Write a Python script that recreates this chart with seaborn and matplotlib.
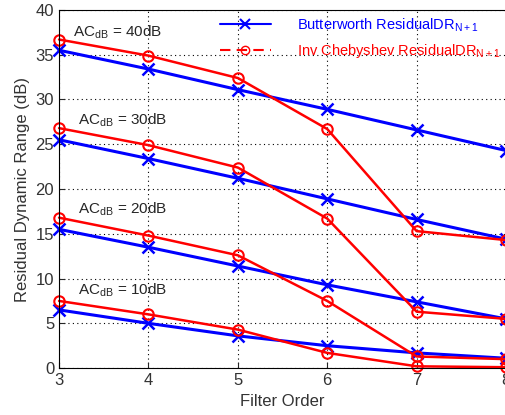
import numpy as np
import pandas as pd
import matplotlib
matplotlib.use("Agg")
import matplotlib.pyplot as plt
from matplotlib.lines import Line2D
import seaborn as sns

# filter orders
orders = [3, 4, 5, 6, 7, 8]
ac_levels = [40, 30, 20, 10]

# Butterworth residual DR (dB) per AC level
butter_40 = [35.5, 33.4, 31.1, 28.9, 26.6, 24.3]
butter_30 = [25.5, 23.4, 21.2, 18.9, 16.6, 14.4]
butter_20 = [15.5, 13.5, 11.4, 9.3, 7.4, 5.5]
butter_10 = [6.5, 5.0, 3.6, 2.5, 1.7, 1.1]

# Inverse Chebyshev residual DR (dB) per AC level
cheby_40 = [36.7, 34.9, 32.4, 26.7, 15.3, 14.3]
cheby_30 = [26.8, 24.9, 22.4, 16.7, 6.3, 5.5]
cheby_20 = [16.8, 14.8, 12.6, 7.5, 1.3, 1.0]
cheby_10 = [7.5, 6.0, 4.3, 1.7, 0.2, 0.1]

# label positions for the AC annotations
label_x = [3.16, 3.21, 3.21, 3.21]
label_y = [37.5, 27.7, 17.8, 8.7]

butter = [butter_40, butter_30, butter_20, butter_10]
cheby = [cheby_40, cheby_30, cheby_20, cheby_10]

rows = []
for ac, b, c in zip(ac_levels, butter, cheby):
    for o, vb, vc in zip(orders, b, c):
        rows.append({"order": o, "dr": vb, "filter": "butter", "ac": ac})
        rows.append({"order": o, "dr": vc, "filter": "cheby", "ac": ac})
df = pd.DataFrame(rows)

sns.set_style("ticks")
plt.rcParams["font.family"] = ["Liberation Sans", "DejaVu Sans"]

fig = plt.figure(figsize=(5.05, 4.15), dpi=100)
ax = fig.add_axes([0.117, 0.113, 0.885, 0.863])

blue = "#0000ff"
red = "#ff0000"

# butterworth curves
sns.lineplot(data=df[df["filter"] == "butter"], x="order", y="dr", units="ac",
             estimator=None, color=blue, marker="x", markersize=9,
             markeredgewidth=1.8, markeredgecolor=blue, linewidth=2.2,
             ax=ax, clip_on=False)
# inverse chebyshev curves
sns.lineplot(data=df[df["filter"] == "cheby"], x="order", y="dr", units="ac",
             estimator=None, color=red, marker="o", markersize=7.5,
             markeredgewidth=1.5, markerfacecolor="none", markeredgecolor=red,
             linewidth=1.8, ax=ax, clip_on=False)

for ac, lx, ly in zip(ac_levels, label_x, label_y):
    ax.text(lx, ly, "AC$_{\\mathregular{dB}}$ = %ddB" % ac, fontsize=11,
            va="center", ha="left")

ax.set_xlim(3, 8)
ax.set_ylim(0, 40)
ax.set_xticks(orders)
ax.set_yticks(range(0, 41, 5))
ax.grid(True, linestyle=(0, (1, 3)), color="black", linewidth=0.8)
ax.tick_params(direction="in", labelsize=12, length=4, labelcolor="#333333")
for s in ax.spines.values():
    s.set_visible(True)
    s.set_color("black")
ax.set_xlabel("Filter Order", fontsize=12, color="#333333")
ax.set_ylabel("Residual Dynamic Range (dB)", fontsize=12, color="#333333")

handles = [
    Line2D([], [], color=blue, marker="x", markersize=7, lw=1.5, mew=1.5),
    Line2D([], [], color=red, marker="o", markersize=6, lw=1.5,
           linestyle=(0, (5, 3)), markerfacecolor="none"),
]
leg = ax.legend(handles,
                ["Butterworth ResidualDR$_{\\mathregular{N+1}}$",
                 "Inv Chebyshev ResidualDR$_{\\mathregular{N+1}}$"],
                loc="upper left", bbox_to_anchor=(0.345, 1.0), frameon=False,
                fontsize=10.5, handlelength=3.5, handletextpad=1.8,
                borderaxespad=0.05, labelspacing=0.55)
for t, c in zip(leg.get_texts(), [blue, red]):
    t.set_color(c)

fig.savefig("out.png", dpi=100)
